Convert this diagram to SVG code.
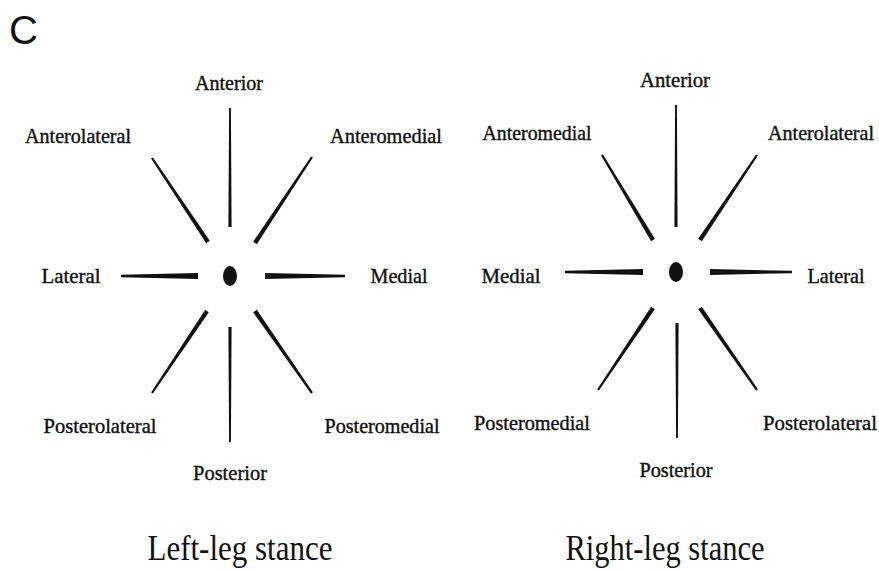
<svg xmlns="http://www.w3.org/2000/svg" width="879" height="573" viewBox="0 0 879 573">
<style>
.lbl{font-family:"Liberation Serif","Times New Roman",serif;font-size:21px;fill:#111;stroke:#111;stroke-width:0.4;text-anchor:middle}
.title{font-family:"Liberation Serif","Times New Roman",serif;font-size:35px;fill:#111;text-anchor:middle}
.sp{fill:#111}
</style>
<rect width="879" height="573" fill="#fff"/>
<text x="9" y="44" font-family="'Liberation Sans',Arial,sans-serif" font-size="40" fill="#111">C</text>
<g id="left-star">
  <g id="left-spokes">
    <polygon class="sp" points="228.4,227 231.6,227 230.9,108 229.1,108"/>
    <polygon class="sp" points="209.83,240.78 206.17,243.22 151.08,158.61 152.92,157.39"/>
    <polygon class="sp" points="256.83,244.22 253.17,241.78 311.08,156.39 312.92,157.61"/>
    <polygon class="sp" points="198,273 198,279 121,277.2 121,274.8"/>
    <polygon class="sp" points="265,273 265,279 345,277.2 345,274.8"/>
    <polygon class="sp" points="208.83,312.23 205.17,309.77 151.09,392.39 152.91,393.61"/>
    <polygon class="sp" points="228.4,327 231.6,327 230.9,442 229.1,442"/>
    <polygon class="sp" points="256.81,309.74 253.19,312.26 311.1,393.63 312.9,392.37"/>
  </g>
  <ellipse id="left-center" cx="230" cy="276" rx="7" ry="10" fill="#111"/>
  <text class="lbl" x="229" y="90" textLength="68" lengthAdjust="spacingAndGlyphs">Anterior</text>
  <text class="lbl" x="78" y="143" textLength="106" lengthAdjust="spacingAndGlyphs">Anterolateral</text>
  <text class="lbl" x="386" y="143" textLength="112" lengthAdjust="spacingAndGlyphs">Anteromedial</text>
  <text class="lbl" x="71" y="283" textLength="59" lengthAdjust="spacingAndGlyphs">Lateral</text>
  <text class="lbl" x="399" y="283" textLength="57" lengthAdjust="spacingAndGlyphs">Medial</text>
  <text class="lbl" x="100" y="433" textLength="113" lengthAdjust="spacingAndGlyphs">Posterolateral</text>
  <text class="lbl" x="230" y="480" textLength="74" lengthAdjust="spacingAndGlyphs">Posterior</text>
  <text class="lbl" x="382" y="433" textLength="115" lengthAdjust="spacingAndGlyphs">Posteromedial</text>
  <text class="title" x="240" y="560" textLength="185" lengthAdjust="spacingAndGlyphs">Left-leg stance</text>
</g>
<g id="right-star">
  <g id="right-spokes">
    <polygon class="sp" points="674.4,227 677.6,227 676.9,105 675.1,105"/>
    <polygon class="sp" points="654.89,238.87 651.11,241.13 601.06,155.57 602.94,154.43"/>
    <polygon class="sp" points="701.83,241.23 698.17,238.77 756.09,154.39 757.91,155.61"/>
    <polygon class="sp" points="643,269 643,275 565,273.2 565,270.8"/>
    <polygon class="sp" points="710,269 710,275 792,273.2 792,270.8"/>
    <polygon class="sp" points="654.83,309.23 651.17,306.77 597.09,389.39 598.91,390.61"/>
    <polygon class="sp" points="675.4,323 678.6,323 677.9,438 676.1,438"/>
    <polygon class="sp" points="701.81,306.74 698.19,309.26 756.1,390.63 757.9,389.37"/>
  </g>
  <ellipse id="right-center" cx="676" cy="272" rx="7" ry="10" fill="#111"/>
  <text class="lbl" x="675" y="87" textLength="70" lengthAdjust="spacingAndGlyphs">Anterior</text>
  <text class="lbl" x="537" y="140" textLength="109" lengthAdjust="spacingAndGlyphs">Anteromedial</text>
  <text class="lbl" x="821" y="140" textLength="106" lengthAdjust="spacingAndGlyphs">Anterolateral</text>
  <text class="lbl" x="511" y="283" textLength="59" lengthAdjust="spacingAndGlyphs">Medial</text>
  <text class="lbl" x="836" y="283" textLength="57" lengthAdjust="spacingAndGlyphs">Lateral</text>
  <text class="lbl" x="532" y="430" textLength="116" lengthAdjust="spacingAndGlyphs">Posteromedial</text>
  <text class="lbl" x="676" y="477" textLength="73" lengthAdjust="spacingAndGlyphs">Posterior</text>
  <text class="lbl" x="820" y="430" textLength="114" lengthAdjust="spacingAndGlyphs">Posterolateral</text>
  <text class="title" x="665" y="560" textLength="199" lengthAdjust="spacingAndGlyphs">Right-leg stance</text>
</g>
</svg>
